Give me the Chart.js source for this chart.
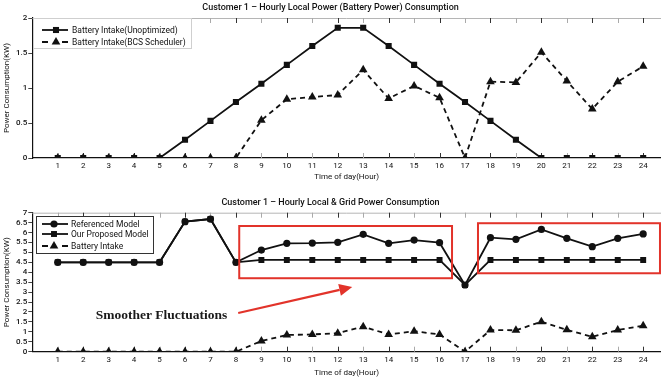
<!DOCTYPE html>
<html><head><meta charset="utf-8">
<script src="https://cdn.jsdelivr.net/npm/chart.js@4.4.1/dist/chart.umd.min.js"></script>
<style>
html,body{margin:0;padding:0;background:#fff;width:661px;height:378px;overflow:hidden}
canvas{position:absolute;left:0}
#c1{top:0}
#c2{top:190px}
</style></head><body>
<canvas id="c1" width="661" height="182"></canvas>
<canvas id="c2" width="661" height="188"></canvas>
<script>
const hours=[1,2,3,4,5,6,7,8,9,10,11,12,13,14,15,16,17,18,19,20,21,22,23,24];
const batteryUnoptimized=[0,0,0,0,0,0.26,0.53,0.8,1.06,1.33,1.6,1.86,1.86,1.6,1.33,1.06,0.8,0.53,0.26,0,0,0,0,0];
const batteryBCS=[0,0,0,0,0,0,0,0,0.54,0.84,0.87,0.9,1.26,0.85,1.03,0.86,0,1.09,1.08,1.51,1.1,0.7,1.09,1.31];
const referencedModel=[4.5,4.5,4.5,4.5,4.5,6.55,6.68,4.5,5.12,5.46,5.47,5.51,5.91,5.46,5.62,5.49,3.36,5.74,5.66,6.16,5.71,5.29,5.71,5.93];
const proposedModel=[4.5,4.5,4.5,4.5,4.5,6.55,6.68,4.5,4.62,4.62,4.62,4.62,4.62,4.62,4.62,4.62,3.36,4.62,4.62,4.62,4.62,4.62,4.62,4.62];
const batteryIntake=[0,0,0,0,0,0,0,0,0.54,0.84,0.87,0.93,1.26,0.87,1.03,0.87,0,1.09,1.08,1.51,1.1,0.75,1.09,1.31];
const topYTicks=[0,0.5,1,1.5,2];
const bottomYTicks=[0,0.5,1,1.5,2,2.5,3,3.5,4,4.5,5,5.5,6,6.5,7];

const FONT="Roboto, 'Liberation Sans', sans-serif";
const INK='#111';
const RED='#e2332a';
const pts=(vals)=>hours.map((h,i)=>({x:h,y:vals[i]}));

const decoPlugin={
  id:'deco',
  beforeDatasetsDraw(chart){
    const {ctx,chartArea:a,scales:{x}}=chart;
    ctx.save();
    ctx.lineWidth=1;
    ctx.strokeStyle='#b5b5b5';
    ctx.beginPath();ctx.moveTo(a.left,a.top+0.5);ctx.lineTo(a.right,a.top+0.5);ctx.stroke();
    hours.forEach(h=>{
      const px=Math.round(x.getPixelForValue(h))+0.5;
      ctx.strokeStyle=h%2===0?'#333':'#aaa';
      ctx.beginPath();
      ctx.moveTo(px,a.top);ctx.lineTo(px,a.top+5);
      ctx.moveTo(px,a.bottom);ctx.lineTo(px,a.bottom-5);
      ctx.stroke();
    });
    ctx.restore();
  },
  afterDatasetsDraw(chart,args,opts){
    const {ctx,scales:{x,y}}=chart;
    ctx.save();
    (opts.rects||[]).forEach(r=>{
      ctx.strokeStyle=RED;ctx.lineWidth=2;
      const x0=x.getPixelForValue(r.x0),x1=x.getPixelForValue(r.x1);
      const y0=y.getPixelForValue(r.y0),y1=y.getPixelForValue(r.y1);
      ctx.strokeRect(x0,y1,x1-x0,y0-y1);
    });
    if(opts.arrow){
      const r=opts.arrow;
      const x0=x.getPixelForValue(r.x0),y0=y.getPixelForValue(r.y0);
      const x1=x.getPixelForValue(r.x1),y1=y.getPixelForValue(r.y1);
      const ang=Math.atan2(y1-y0,x1-x0);
      const hl=13,hw=6;
      const bx=x1-hl*Math.cos(ang),by=y1-hl*Math.sin(ang);
      ctx.strokeStyle=RED;ctx.fillStyle=RED;ctx.lineWidth=2.2;
      ctx.beginPath();ctx.moveTo(x0,y0);ctx.lineTo(bx,by);ctx.stroke();
      ctx.beginPath();ctx.moveTo(x1,y1);
      ctx.lineTo(bx+hw*Math.sin(ang),by-hw*Math.cos(ang));
      ctx.lineTo(bx-hw*Math.sin(ang),by+hw*Math.cos(ang));
      ctx.closePath();ctx.fill();
    }
    if(opts.note){
      ctx.fillStyle='#1a1a1a';
      ctx.font="bold 13.5px 'Liberation Serif', 'DejaVu Serif', serif";
      ctx.textBaseline='middle';ctx.textAlign='right';
      ctx.fillText(opts.note.text,x.getPixelForValue(opts.note.x),y.getPixelForValue(opts.note.y));
    }
    const L=opts.legend;
    if(L){
      ctx.fillStyle='#fff';
      ctx.fillRect(L.box[0],L.box[1],L.box[2],L.box[3]);
      ctx.strokeStyle=L.border;ctx.lineWidth=1;
      ctx.strokeRect(L.box[0]+0.5,L.box[1]+0.5,L.box[2],L.box[3]);
      chart.data.datasets.forEach((ds,i)=>{
        const ry=L.rows[i];
        ctx.strokeStyle=ds.borderColor;ctx.fillStyle=ds.borderColor;
        ctx.lineWidth=ds.borderWidth;
        ctx.beginPath();
        if(ds.borderDash){
          ctx.moveTo(L.x0,ry);ctx.lineTo(L.x0+6,ry);
          ctx.moveTo(L.x1-6,ry);ctx.lineTo(L.x1,ry);
        } else {ctx.moveTo(L.x0,ry);ctx.lineTo(L.x1,ry);}
        ctx.stroke();
        Chart.helpers.drawPoint(ctx,{pointStyle:ds.pointStyle,radius:ds.pointRadius,rotation:0,borderWidth:0},L.mx,ry);
        ctx.fillStyle='#111';
        ctx.font='8.5px '+FONT;
        ctx.textBaseline='middle';ctx.textAlign='left';
        ctx.fillText(ds.label,L.tx,ry+0.5);
      });
    }
    ctx.restore();
  }
};

function makeOptions(cfg){
  return {
    responsive:false,animation:false,
    layout:{autoPadding:false,padding:{left:0,right:0,top:0,bottom:0}},
    plugins:{
      legend:{display:false},tooltip:{enabled:false},
      title:{display:true,text:cfg.title,color:'#111',font:{family:FONT,size:9,weight:'500'},padding:cfg.titlePad},
      deco:cfg.deco
    },
    scales:{
      x:{type:'linear',min:0,max:24.7,
        afterBuildTicks:(s)=>{s.ticks=hours.map(h=>({value:h}));},
        afterFit:(s)=>{s.height=cfg.xHeight;},
        grid:{display:true,drawOnChartArea:false,drawTicks:false},
        border:{display:true,color:INK,width:1.2},
        ticks:{color:'#111',font:{family:FONT,size:8},padding:cfg.xPad,maxRotation:0,autoSkip:false,callback:(v)=>String(v)},
        title:{display:true,text:'Time of day(Hour)',color:'#111',font:{family:FONT,size:8},padding:{top:cfg.xTitlePad,bottom:0}}
      },
      y:{min:cfg.ymin,max:cfg.ymax,
        afterBuildTicks:(s)=>{s.ticks=cfg.yTicks.map(v=>({value:v}));},
        afterFit:(s)=>{s.width=32.3;},
        grid:{display:true,drawOnChartArea:false,drawTicks:true,tickLength:4,color:'#444'},
        border:{display:true,color:INK,width:1.2},
        ticks:{color:'#111',font:{family:FONT,size:8,weight:'500'},padding:1,autoSkip:false,callback:(v)=>String(v)},
        title:{display:true,text:'Power Consumption(KW)',color:'#111',font:{family:FONT,size:8},padding:{top:2,bottom:0}}
      }
    },
    elements:{line:{tension:0}}
  };
}

new Chart(document.getElementById('c1'),{
  type:'line',
  data:{datasets:[
    {label:'Battery Intake(Unoptimized)',data:pts(batteryUnoptimized),borderColor:INK,backgroundColor:INK,borderWidth:1.8,pointStyle:'rect',pointRadius:4.3,pointBorderWidth:0,pointBackgroundColor:INK,order:1},
    {label:'Battery Intake(BCS Scheduler)',data:pts(batteryBCS),borderColor:INK,backgroundColor:INK,borderWidth:1.8,borderDash:[5,4],pointStyle:'triangle',pointRadius:5,pointBorderWidth:0,pointBackgroundColor:INK,order:0}
  ]},
  options:makeOptions({
    title:'Customer 1 \u2013 Hourly Local Power (Battery Power) Consumption',
    titlePad:{top:2.6,bottom:4.6},xHeight:24,xPad:3,xTitlePad:0,
    ymin:0,ymax:2,yTicks:topYTicks,
    deco:{legend:{box:[33,18,158,30],border:'#cfcfcf',rows:[30,42],x0:42,x1:68,mx:56,tx:72}}
  }),
  plugins:[decoPlugin]
});

new Chart(document.getElementById('c2'),{
  type:'line',
  data:{datasets:[
    {label:'Referenced Model',data:pts(referencedModel),borderColor:INK,backgroundColor:INK,borderWidth:1.8,pointStyle:'circle',pointRadius:3.6,pointBorderWidth:0,pointBackgroundColor:INK,order:0},
    {label:'Our Proposed Model',data:pts(proposedModel),borderColor:INK,backgroundColor:INK,borderWidth:1.8,pointStyle:'rect',pointRadius:4.2,pointBorderWidth:0,pointBackgroundColor:INK,order:1},
    {label:'Battery Intake',data:pts(batteryIntake),borderColor:INK,backgroundColor:INK,borderWidth:1.8,borderDash:[5,4],pointStyle:'triangle',pointRadius:5,pointBorderWidth:0,pointBackgroundColor:INK,order:2}
  ]},
  options:makeOptions({
    title:'Customer 1 \u2013 Hourly Local & Grid Power Consumption',
    titlePad:{top:7.6,bottom:4.3},xHeight:26.3,xPad:3.5,xTitlePad:1,
    ymin:0,ymax:7,yTicks:bottomYTicks,
    deco:{
      legend:{box:[36,26,117,37],border:'#333',rows:[34,44,56],x0:42,x1:68,mx:54,tx:71},
      rects:[{x0:8.13,x1:16.49,y0:3.7,y1:6.33},{x0:17.51,x1:24.66,y0:3.95,y1:6.47}],
      arrow:{x0:8.09,y0:1.95,x1:12.57,y1:3.26},
      note:{text:'Smoother Fluctuations',x:7.66,y:1.84}
    }
  }),
  plugins:[decoPlugin]
});
</script>
</body></html>
